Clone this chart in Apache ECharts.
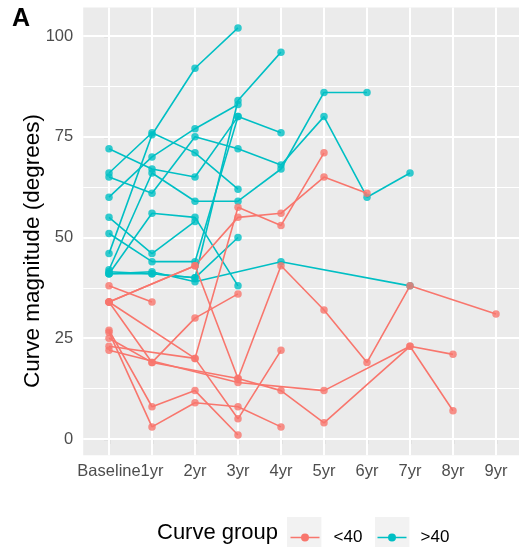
<!DOCTYPE html>
<html>
<head>
<meta charset="utf-8">
<script src="https://cdn.jsdelivr.net/npm/echarts@6/dist/echarts.min.js"></script>
<style>
  html, body { margin: 0; padding: 0; overflow: hidden; background: #fff; }
  #chart { width: 524px; height: 547px; }
</style>
</head>
<body>
<div id="chart"></div>
<script>
// Visit labels along the x axis
const timepoints = ['Baseline', '1yr', '2yr', '3yr', '4yr', '5yr', '6yr', '7yr', '8yr', '9yr'];
const yTicks = [0, 25, 50, 75, 100];
const yMinorTicks = [12.5, 37.5, 62.5, 87.5];
const _ = null;

// Curve magnitude per visit for each patient, baseline curve < 40 degrees
const lt40_p01 = [38, 34, _, _, _, _, _, _, _, _];
const lt40_p02 = [34, _, 43, 15, 43, 32, 19, 38, _, 31];
const lt40_p03 = [34, 19, 30, 36, _, _, _, _, _, _];
const lt40_p04 = [34, _, 20, 5, 22, _, _, _, _, _];
const lt40_p05 = [27, 8, 12, 1, _, _, _, _, _, _];
const lt40_p06 = [26.5, 3, 9, 8, 3, _, _, _, _, _];
const lt40_p07 = [25, 19, _, 15, 12, 4, _, 23, 7, _];
const lt40_p08 = [23, _, 20, 57.5, 53, 71, _, _, _, _];
const lt40_p09 = [22, _, _, 14, _, 12, _, 23, 21, _];
const lt40_p10 = [34, _, 43, 55, 56, 65, 61, _, _, _];

// Curve magnitude per visit for each patient, baseline curve > 40 degrees
const gt40_p01 = [46, 75.5, 92, 102, _, _, _, _, _, _];
const gt40_p02 = [60, 70, 77, 83, _, _, _, _, _, _];
const gt40_p03 = [66, 76, 71, 62, _, _, _, _, _, _];
const gt40_p04 = [72, 67, 65, 80, 76, _, _, _, _, _];
const gt40_p05 = [65, 61, 75, 72, 68, 80, 60, 66, _, _];
const gt40_p06 = [42, 66, 59, 59, 67, 86, 86, _, _, _];
const gt40_p07 = [41, 56, 55, 38, _, _, _, _, _, _];
const gt40_p08 = [55, 46, 54, _, _, _, _, _, _, _];
const gt40_p09 = [51, 44, 44, 80, _, _, _, _, _, _];
const gt40_p10 = [41.5, 41, 40, 50, _, _, _, _, _, _];
const gt40_p11 = [41, 41.5, 39, _, 44, _, _, 38, _, _];
const gt40_p12 = [41, 41, 40, 84, 96, _, _, _, _, _];

const groupLow = [lt40_p01, lt40_p02, lt40_p03, lt40_p04, lt40_p05, lt40_p06, lt40_p07, lt40_p08, lt40_p09, lt40_p10];
const groupHigh = [gt40_p01, gt40_p02, gt40_p03, gt40_p04, gt40_p05, gt40_p06, gt40_p07, gt40_p08, gt40_p09, gt40_p10, gt40_p11, gt40_p12];

const RED = '#F8766D';
const TEAL = '#00BFC4';
const FONT = "'Liberation Sans', Arial, sans-serif";

function toPairs(values) {
  const out = [];
  values.forEach((v, i) => { if (v !== null) out.push([i, v]); });
  return out;
}

function lineSeries(values, name, color) {
  return {
    type: 'line', name: name, data: toPairs(values),
    showSymbol: false, silent: true, z: 2,
    lineStyle: { color: color, width: 1.6 },
    itemStyle: { color: color },
    animation: false
  };
}

function pointSeries(values, name, color) {
  return {
    type: 'scatter', name: name, data: toPairs(values),
    symbolSize: 7.5, silent: true, z: 3,
    itemStyle: { color: color },
    animation: false
  };
}

// Panel grid lines drawn through the axis scales
const gridLines = {
  type: 'line', name: 'panel-grid', data: [], silent: true,
  markLine: {
    silent: true, symbol: ['none', 'none'], label: { show: false }, z: 1, animation: false,
    data: [
      ...yMinorTicks.map(v => ({ yAxis: v, lineStyle: { color: '#ffffff', width: 1, type: 'solid' } })),
      ...yTicks.map(v => ({ yAxis: v, lineStyle: { color: '#ffffff', width: 2, type: 'solid' } })),
      ...timepoints.map((t, i) => ({ xAxis: i, lineStyle: { color: '#ffffff', width: 2, type: 'solid' } }))
    ]
  }
};

const series = [gridLines];
groupHigh.forEach(p => series.push(lineSeries(p, '>40', TEAL)));
groupLow.forEach(p => series.push(lineSeries(p, '<40', RED)));
groupHigh.forEach(p => series.push(pointSeries(p, '>40', TEAL)));
groupLow.forEach(p => series.push(pointSeries(p, '<40', RED)));

const legendIcon = 'path://M0,4.2 L29,4.2 L29,5.8 L0,5.8 Z M10.5,5 A4,4 0 1,1 18.5,5 A4,4 0 1,1 10.5,5 Z';
function legendAt(left, name) {
  return {
    data: [name], left: left, top: 529, orient: 'horizontal', selectedMode: false,
    icon: legendIcon, itemWidth: 29, itemHeight: 8, padding: 0,
    textStyle: { fontFamily: FONT, fontSize: 17, color: '#000', padding: [0, 0, 0, 9] }
  };
}

const chart = echarts.init(document.getElementById('chart'), null, { renderer: 'canvas' });
chart.setOption({
  animation: false,
  backgroundColor: '#ffffff',
  textStyle: { fontFamily: FONT },
  grid: { left: 83.2, top: 7.6, width: 438.6, height: 447.7, show: true, backgroundColor: '#EBEBEB', borderWidth: 0 },
  xAxis: {
    type: 'value', min: -0.6, max: 9.6,
    axisLine: { show: false },
    splitLine: { show: false },
    axisTick: { show: true, length: 5, lineStyle: { color: '#333333', width: 1.1 }, customValues: timepoints.map((t, i) => i) },
    axisLabel: {
      show: true, margin: 8, fontSize: 16.5, color: '#4D4D4D', fontFamily: FONT,
      customValues: timepoints.map((t, i) => i),
      formatter: v => timepoints[Math.round(v)]
    }
  },
  yAxis: {
    type: 'value', min: -4.05, max: 107.05,
    axisLine: { show: false },
    splitLine: { show: false },
    axisTick: { show: true, length: 5, lineStyle: { color: '#333333', width: 1.1 }, customValues: yTicks },
    axisLabel: { show: true, margin: 10, fontSize: 16.5, color: '#4D4D4D', fontFamily: FONT, customValues: yTicks }
  },
  legend: [legendAt(290.5, '<40'), legendAt(377.5, '>40')],
  graphic: [
    { type: 'text', left: 12, top: 7, style: { text: 'A', font: 'bold 25px ' + FONT, fill: '#000' } },
    {
      type: 'text', x: 33, y: 251, rotation: Math.PI / 2,
      style: { text: 'Curve magnitude (degrees)', font: '22.5px ' + FONT, fill: '#000', align: 'center', verticalAlign: 'middle' }
    },
    { type: 'text', left: 157, top: 522, style: { text: 'Curve group', font: '22px ' + FONT, fill: '#000' } },
    { type: 'rect', shape: { x: 287, y: 517, width: 34.4, height: 34 }, style: { fill: '#F2F2F2' }, z: -1 },
    { type: 'rect', shape: { x: 375, y: 517, width: 34.4, height: 34 }, style: { fill: '#F2F2F2' }, z: -1 }
  ],
  series: series
});
</script>
</body>
</html>
